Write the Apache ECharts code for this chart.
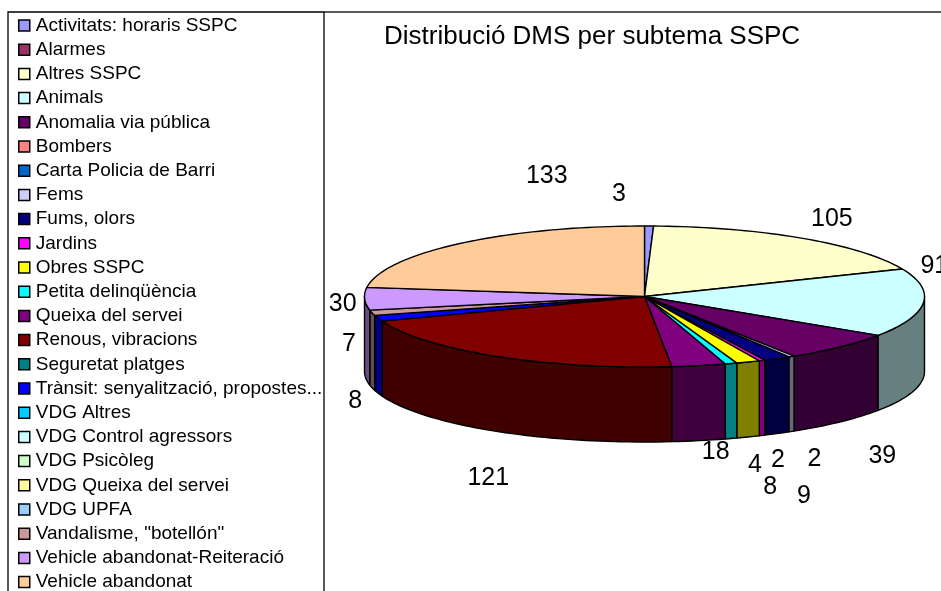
<!DOCTYPE html>
<html><head><meta charset="utf-8">
<style>html,body{margin:0;padding:0;background:#fff;overflow:hidden}#c{width:941px;height:591px}</style>
<script src="https://cdn.jsdelivr.net/npm/echarts@6/dist/echarts.min.js"></script>
</head><body><div id="c"></div>
<script>
const titleText = 'Distribució DMS per subtema SSPC';
const categories = ['Activitats: horaris SSPC','Alarmes','Altres SSPC','Animals','Anomalia via pública','Bombers','Carta Policia de Barri','Fems','Fums, olors','Jardins','Obres SSPC','Petita delinqüència','Queixa del servei','Renous, vibracions','Seguretat platges','Trànsit: senyalització, propostes...','VDG Altres','VDG Control agressors','VDG Psicòleg','VDG Queixa del servei','VDG UPFA','Vandalisme, "botellón"','Vehicle abandonat-Reiteració','Vehicle abandonat'];
const values = [3,0,105,91,39,0,0,2,9,2,8,4,18,121,0,8,0,0,0,0,0,7,30,133];
const colors = ['#9999FF','#993366','#FFFFCC','#CCFFFF','#660066','#FF8080','#0066CC','#CCCCFF','#000080','#FF00FF','#FFFF00','#00FFFF','#800080','#800000','#008080','#0000FF','#00CCFF','#CCFFFF','#CCFFCC','#FFFF99','#99CCFF','#CC9999','#CC99FF','#FFCC99'];
// label offsets from the slice's rim point, same order as categories
const labelNudge = [[-30,-32],null,[29,-19],[11,-37],[42,109],null,null,[23,103],[27,138],[16,100],[22,125],[24,102],[17,86],[-8,122],null,[-23,83],null,null,null,null,null,[-23,31],[-22,5],[87,-67]];

const pie = {cx:644.5, cy:296.5, rx:280, ry:70.5, depth:75};
const total = values.reduce((a,b)=>a+b,0);
const starts = []; values.reduce((a,v,i)=>{starts[i]=a;return a+v;},0);
const toDeg = v => v/total*360;
const rim = d => {const r=d*Math.PI/180;return [pie.cx+pie.rx*Math.sin(r), pie.cy-pie.ry*Math.cos(r)];};
function arcPts(a,b){const n=Math.max(1,Math.ceil((b-a)/1.5));const p=[];for(let i=0;i<=n;i++)p.push(rim(a+(b-a)*i/n));return p;}
function darken(hex){const n=parseInt(hex.slice(1),16);const f=c=>Math.round(c/2);return `rgb(${f(n>>16&255)},${f(n>>8&255)},${f(n&255)})`;}

const stroke = {stroke:'#000',lineWidth:1.4,lineJoin:'round'};
const series = categories.map((name,i)=>({
  name, type:'custom', coordinateSystem:'none', silent:true, animation:false,
  itemStyle:{color:colors[i]},
  data:[[values[i]]],
  renderItem:(params,api)=>{
    const v = api.value(0);
    if(!v) return {type:'group',children:[]};
    const a = toDeg(starts[i]), b = a+toDeg(v), children=[];
    const fa=Math.max(a,90), fb=Math.min(b,270);
    if(fb>fa){
      const up=arcPts(fa,fb);
      const dn=up.slice().reverse().map(p=>[p[0],p[1]+pie.depth]);
      children.push({type:'polygon',shape:{points:up.concat(dn)},style:{fill:darken(colors[i]),...stroke}});
    }
    children.push({type:'polygon',shape:{points:[[pie.cx,pie.cy]].concat(arcPts(a,b))},style:{fill:colors[i],...stroke}});
    const m=rim((a+b)/2), n=labelNudge[i]||[0,0];
    children.push({type:'text',x:m[0]+n[0],y:m[1]+n[1],style:{text:String(v),fill:'#000',font:'25px "Liberation Sans"',align:'center',verticalAlign:'middle'}});
    return {type:'group',children};
  }
}));

const chart = echarts.init(document.getElementById('c'),null,{renderer:'canvas'});
chart.setOption({
  animation:false, backgroundColor:'#fff',
  title:{text:titleText,left:384,top:24,padding:0,textStyle:{fontFamily:'Liberation Sans',fontSize:26,fontWeight:'normal',color:'#000'}},
  legend:{orient:'vertical',left:18,top:16,height:640,padding:0,itemWidth:11,itemHeight:11,itemGap:5.2,selectedMode:false,
    textStyle:{fontFamily:'Liberation Sans',fontSize:19,color:'#000',lineHeight:19,padding:[0,0,0,1]},
    data:categories.map((name,i)=>({name,icon:'rect',itemStyle:{color:colors[i],borderColor:'#000',borderWidth:1.5}}))},
  graphic:[
    {type:'rect',z:-1,silent:true,shape:{x:8,y:12,width:316,height:620},style:{fill:'none',stroke:'#000',lineWidth:1.3}},
    {type:'line',z:-1,silent:true,shape:{x1:324,y1:12,x2:941,y2:12},style:{stroke:'#222',lineWidth:1.3}}
  ],
  series
});
</script></body></html>
